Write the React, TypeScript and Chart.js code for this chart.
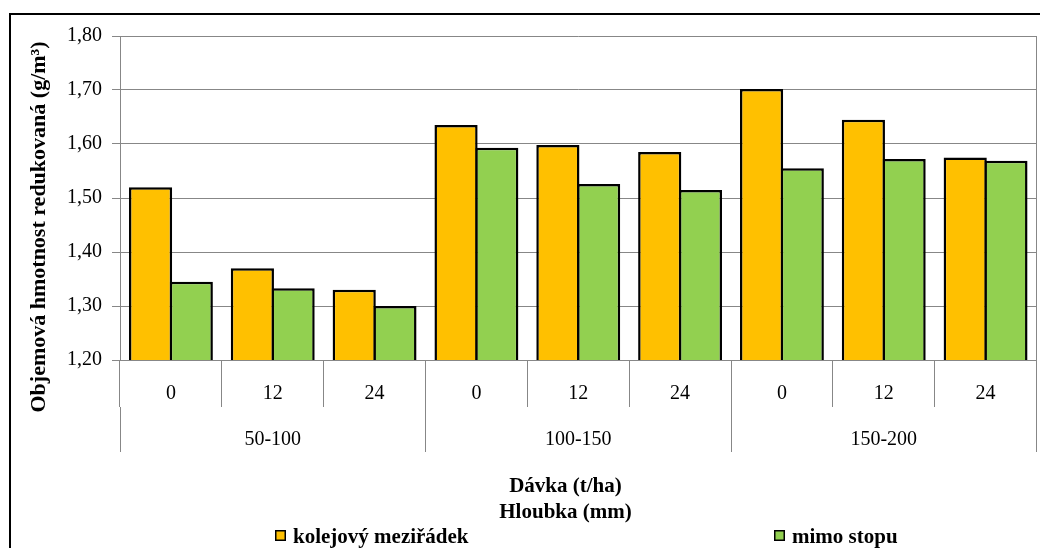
import React, { useEffect, useRef } from 'react';
import { Chart, registerables } from 'chart.js';

Chart.register(...registerables);

// Depth classes (inner axis level) and dose groups (outer axis level)
const depthLabels = ['0', '12', '24', '0', '12', '24', '0', '12', '24'];
const doseGroups = ['50-100', '100-150', '150-200'];

// Reduced bulk density, g/m³
const trackRow = [1.52, 1.37, 1.33, 1.635, 1.598, 1.585, 1.702, 1.645, 1.575];
const offTrack = [1.345, 1.333, 1.3, 1.593, 1.526, 1.515, 1.555, 1.572, 1.569];

const seriesNames = ['kolejový meziřádek', 'mimo stopu'];
const seriesColors = ['#FFC000', '#92D050'];

const yMin = 1.2;
const yMax = 1.8;
const yStep = 0.1;

const yTitle = 'Objemová hmotnost redukovaná (g/m³)';
const xTitles = ['Dávka (t/ha)', 'Hloubka (mm)'];

const GRID = '#878787';
const SERIF = '"Liberation Serif", "Times New Roman", serif';

// Axis titles and the legend row under the plot
const captions = {
  id: 'captions',
  afterDraw(chart: any) {
    const ctx = chart.ctx;
    ctx.save();
    ctx.fillStyle = '#000';

    // vertical axis title
    ctx.save();
    ctx.translate(45, 227);
    ctx.rotate(-Math.PI / 2);
    ctx.font = `bold 22px ${SERIF}`;
    ctx.textAlign = 'center';
    ctx.textBaseline = 'alphabetic';
    ctx.fillText(yTitle, 0, 0);
    ctx.restore();

    // horizontal axis titles
    ctx.font = `bold 21px ${SERIF}`;
    ctx.textAlign = 'center';
    ctx.textBaseline = 'alphabetic';
    ctx.fillText(xTitles[0], 565.5, 492);
    ctx.fillText(xTitles[1], 565.5, 518);

    // legend
    const items = chart.data.datasets.map((ds: any, i: number) => ({
      text: ds.label,
      color: ds.backgroundColor,
      x: i === 0 ? 275 : 774,
    }));
    ctx.textAlign = 'left';
    for (const it of items) {
      ctx.fillStyle = it.color;
      ctx.fillRect(it.x + 0.75, 530.75, 9.5, 9.5);
      ctx.strokeStyle = '#000';
      ctx.lineWidth = 1.5;
      ctx.strokeRect(it.x + 0.75, 530.75, 9.5, 9.5);
      ctx.fillStyle = '#000';
      ctx.fillText(it.text, it.x + 18, 543);
    }
    ctx.restore();
  },
};

export default function App() {
  const canvasRef = useRef<HTMLCanvasElement | null>(null);

  useEffect(() => {
    const canvas = canvasRef.current;
    if (!canvas) return;
    const tickFont = { family: SERIF, size: 20 };

    const barStyle = {
      borderColor: '#000',
      borderWidth: 2.5,
      borderSkipped: false,
      categoryPercentage: 0.8,
      barPercentage: 1.06,
    };

    const chart = new Chart(canvas, {
      type: 'bar',
      data: {
        labels: depthLabels,
        datasets: [
          {
            label: seriesNames[0],
            data: trackRow,
            backgroundColor: seriesColors[0],
            ...barStyle,
          },
          {
            label: seriesNames[1],
            data: offTrack,
            backgroundColor: seriesColors[1],
            ...barStyle,
          },
        ],
      },
      options: {
        responsive: false,
        animation: false,
        devicePixelRatio: 1,
        layout: { padding: { top: 36, right: 3.5, bottom: 0, left: 0 } },
        plugins: {
          legend: { display: false },
          tooltip: { enabled: false },
        },
        scales: {
          x: {
            type: 'category',
            position: 'bottom',
            weight: 0,
            offset: true,
            grid: {
              offset: true,
              drawOnChartArea: false,
              drawTicks: true,
              tickLength: 47,
              color: GRID,
              tickColor: GRID,
              lineWidth: 1,
            },
            border: { display: true, color: GRID, width: 1 },
            ticks: {
              padding: -25,
              font: tickFont,
              color: '#000',
              autoSkip: false,
              maxRotation: 0,
            },
            afterFit: (s: any) => {
              s.height = 47;
            },
          },
          x2: {
            type: 'category',
            labels: doseGroups,
            position: 'bottom',
            weight: 1,
            offset: true,
            grid: {
              offset: true,
              drawOnChartArea: false,
              drawTicks: true,
              tickLength: 45,
              color: GRID,
              tickColor: GRID,
              lineWidth: 1,
            },
            border: { display: false },
            ticks: {
              padding: -24,
              font: tickFont,
              color: '#000',
              autoSkip: false,
              maxRotation: 0,
            },
            afterFit: (s: any) => {
              s.height = 141;
            },
          },
          y: {
            type: 'linear',
            position: 'left',
            min: yMin,
            max: yMax,
            grid: {
              color: GRID,
              tickColor: GRID,
              tickLength: 8,
              lineWidth: 1,
            },
            border: { display: true, color: GRID, width: 1 },
            ticks: {
              stepSize: yStep,
              padding: 10,
              font: tickFont,
              color: '#000',
              callback: (v: any) => Number(v).toFixed(2).replace('.', ','),
            },
            afterFit: (s: any) => {
              s.width = 120;
            },
          },
          y2: {
            type: 'linear',
            position: 'right',
            min: yMin,
            max: yMax,
            grid: { drawOnChartArea: false, drawTicks: false },
            border: { display: true, color: GRID, width: 1 },
            ticks: { display: false },
            afterFit: (s: any) => {
              s.width = 0;
            },
          },
        },
      },
      plugins: [captions],
    } as any);

    return () => chart.destroy();
  }, []);

  return (
    <>
      <div
        style={{
          position: 'fixed',
          left: 9,
          top: 13,
          width: 1031,
          height: 535,
          borderTop: '2px solid #000',
          borderLeft: '2px solid #000',
          boxSizing: 'border-box',
        }}
      />
      <canvas
        ref={canvasRef}
        width={1040}
        height={548}
        style={{ position: 'fixed', left: 0, top: 0, width: 1040, height: 548 }}
      />
    </>
  );
}
